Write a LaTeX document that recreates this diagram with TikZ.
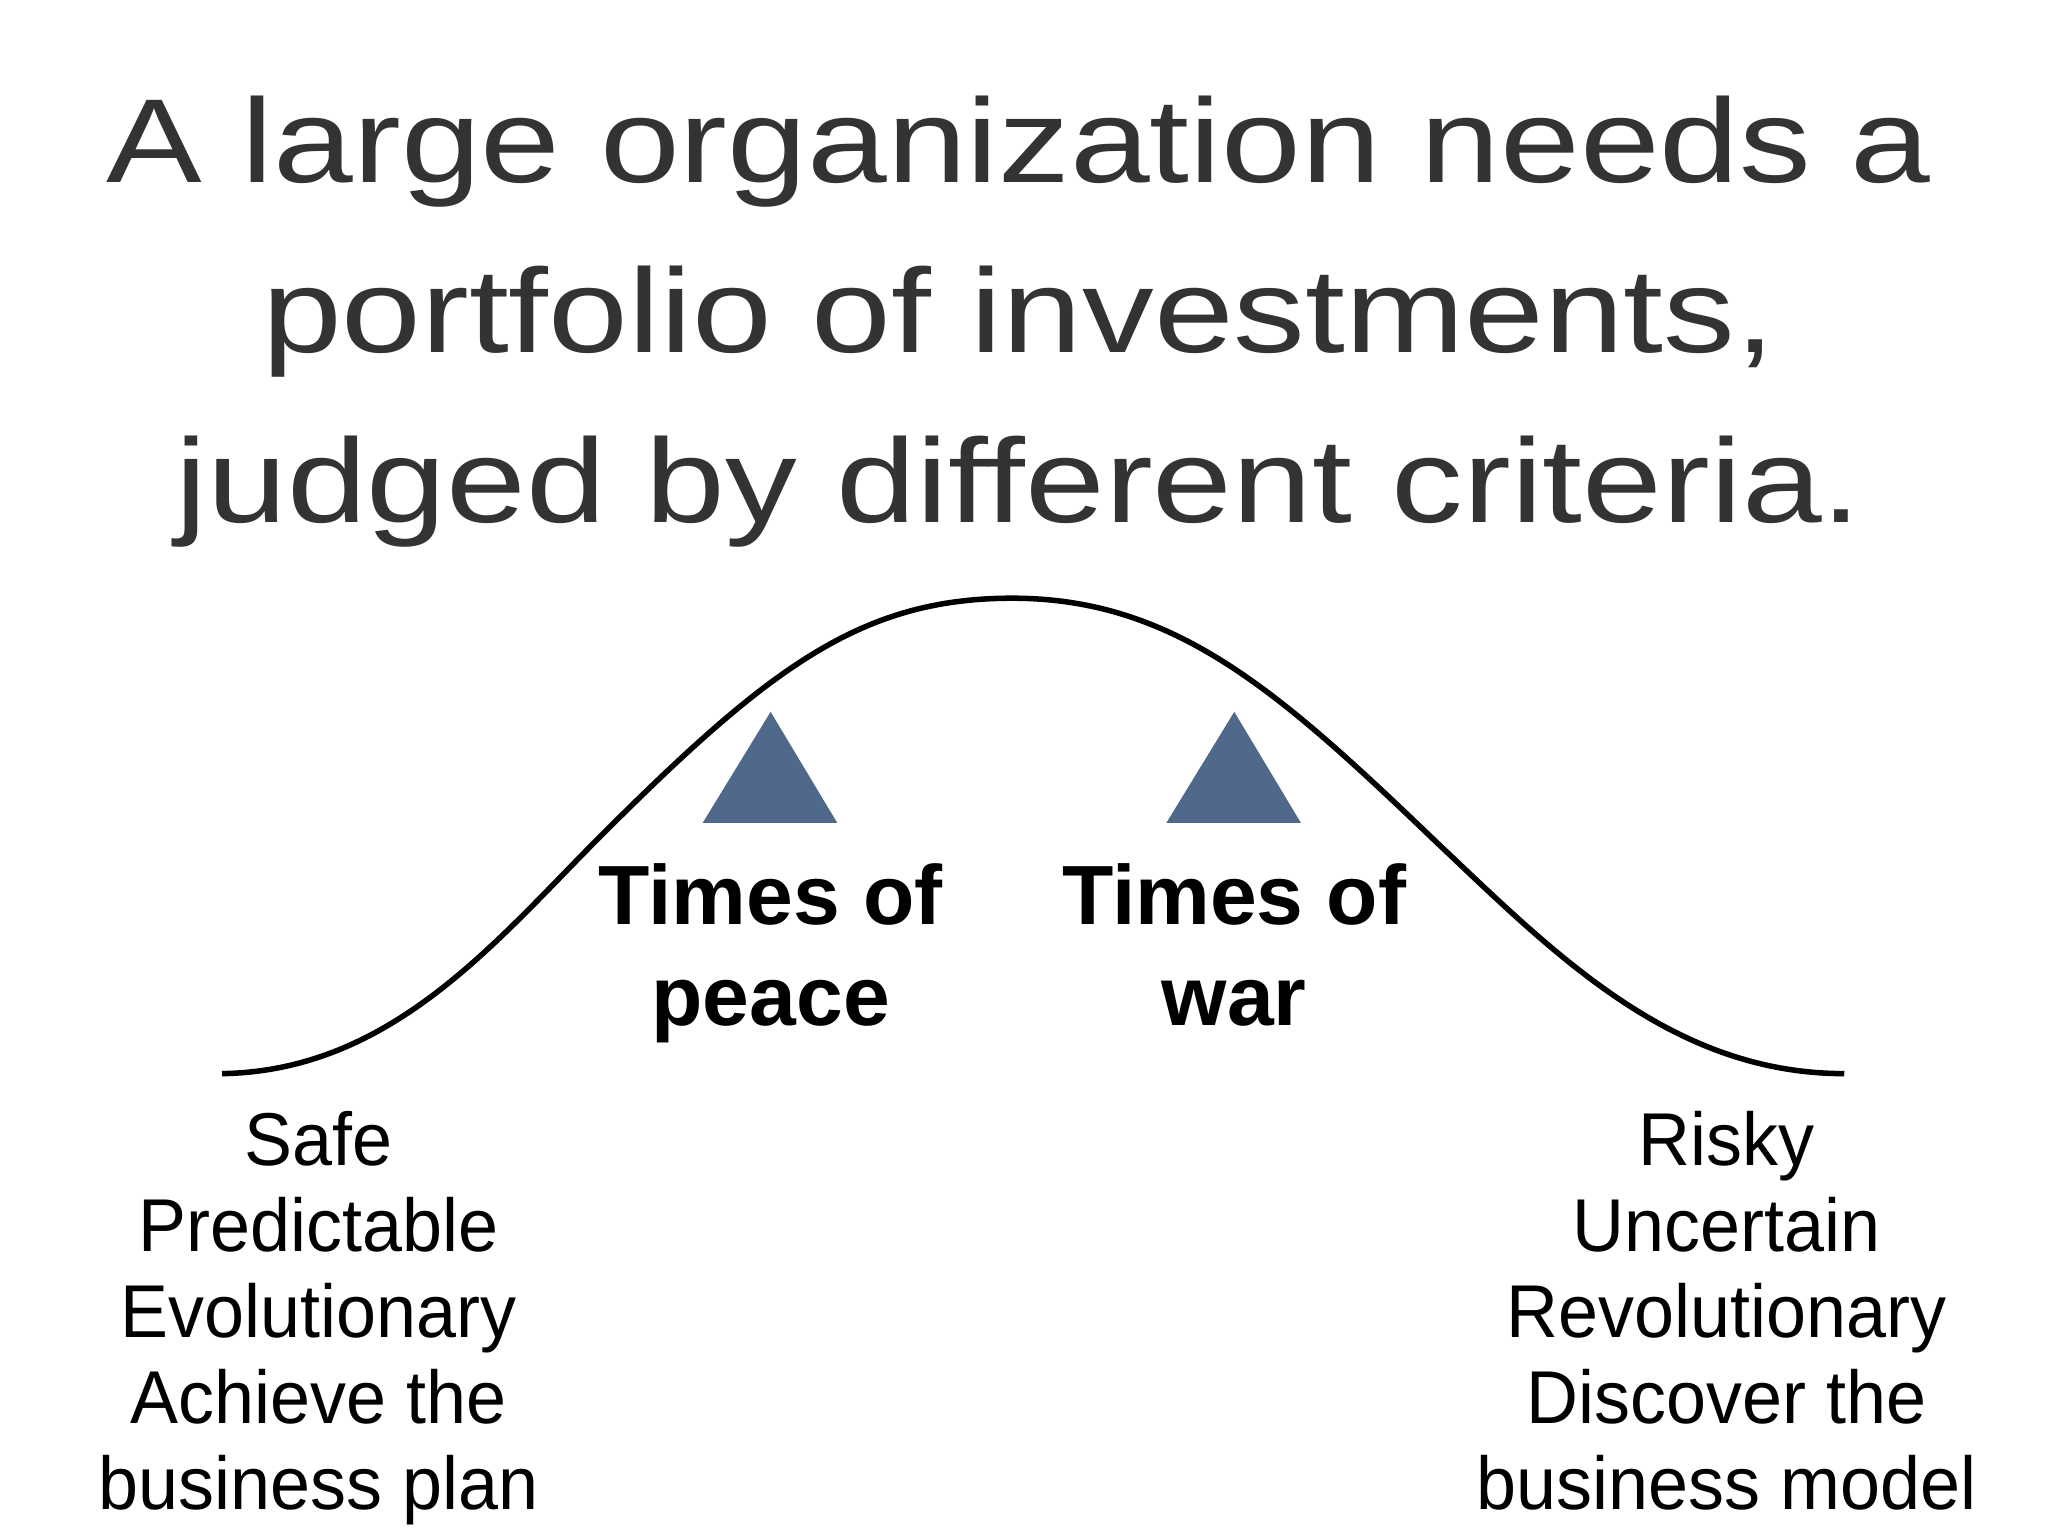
\documentclass[tikz,border=0pt]{standalone}
\usepackage{fontspec}
\setmainfont{Liberation Sans}
\definecolor{titlegray}{HTML}{333333}
\definecolor{tri}{HTML}{50698A}
\begin{document}
\begin{tikzpicture}[x=0.01cm,y=-0.01cm,
  ttl/.style={anchor=base,text=titlegray,font=\fontsize{26}{30}\selectfont,inner sep=0,xscale=1.2},
  lbl/.style={anchor=base,font=\fontsize{18.3}{22}\selectfont\bfseries,inner sep=0},
  sm/.style={anchor=base,font=\fontsize{16.3}{19}\selectfont,inner sep=0,xscale=0.96}]
\useasboundingbox[fill=white] (0,0) rectangle (1568,1176);
\node[ttl] (t1) at (780,140) {A large organization needs a};
\node[ttl] (t2) at (780,270) {portfolio of investments,};
\node[ttl] (t3) at (780,400) {judged by different criteria.};
\draw[line width=1.2pt] (170,822) .. controls (300,820) and (380,720) .. (460,640)
  .. controls (590,510) and (660,458) .. (775,458)
  .. controls (900,458) and (980,530) .. (1100,645)
  .. controls (1190,730) and (1280,822) .. (1412,822);
\fill[tri] (590,545) -- (641,630) -- (538,630) -- cycle;
\fill[tri] (945,545) -- (996,630) -- (893,630) -- cycle;
\node[lbl] (p1) at (590,708) {Times of};
\node[lbl] (p2) at (590,785) {peace};
\node[lbl] (w1) at (945,708) {Times of};
\node[lbl] (w2) at (945,785) {war};
\node[sm] (l1) at (244,892) {Safe};
\node[sm] (l2) at (244,958) {Predictable};
\node[sm] (l3) at (244,1024) {Evolutionary};
\node[sm] (l4) at (244,1090) {Achieve the};
\node[sm] (l5) at (244,1156) {business plan};
\node[sm] (r1) at (1322,892) {Risky};
\node[sm] (r2) at (1322,958) {Uncertain};
\node[sm] (r3) at (1322,1024) {Revolutionary};
\node[sm] (r4) at (1322,1090) {Discover the};
\node[sm] (r5) at (1322,1156) {business model};
\end{tikzpicture}
\end{document}
